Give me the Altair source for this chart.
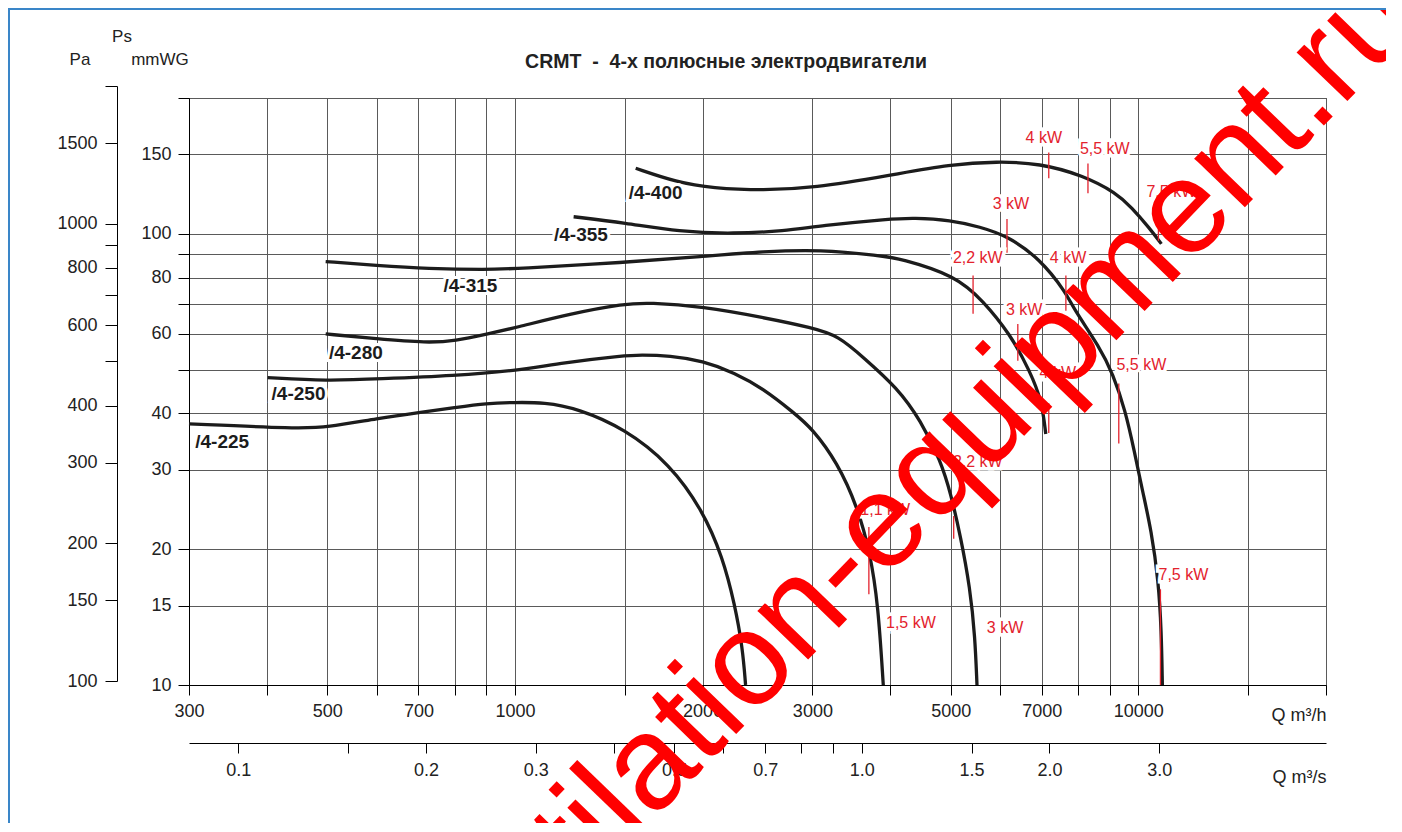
import altair as alt
import pandas as pd

NARROW = "Liberation Sans Narrow, Arial Narrow, Liberation Sans, Arial, sans-serif"
REG = "Liberation Sans, Arial, Helvetica, sans-serif"
RED = "#e3222d"
INK = "#1c1c1c"
GRID = "#5a5a5a"

# ---- fan curves: Q in m3/h, Ps in mmWG ----
models = ["/4-225", "/4-250", "/4-280", "/4-315", "/4-355", "/4-400"]
q_225 = [300, 450, 497, 604, 703, 802, 900, 1000, 1113, 1262, 1500, 1772, 2000, 2154, 2252, 2318, 2344]
p_225 = [37.9, 37.0, 37.2, 39.0, 40.2, 41.2, 42.1, 42.3, 42.3, 41.0, 37.0, 30.9, 24.4, 19.2, 15.1, 12.1, 10.0]
q_250 = [401, 500, 604, 802, 1000, 1194, 1500, 1586, 1772, 2000, 2252, 2500, 2797, 3000, 3291, 3544, 3714, 3824, 3898]
p_250 = [48.0, 47.2, 47.7, 48.5, 49.7, 51.8, 53.7, 53.9, 53.7, 52.3, 49.2, 45.4, 40.2, 37.0, 31.1, 24.8, 19.6, 15.1, 10.0]
q_280 = [497, 600, 724, 802, 903, 1000, 1226, 1500, 1639, 2000, 2509, 3000, 3304, 3622, 4104, 4475, 4818, 5000, 5188, 5371, 5470, 5510]
p_280 = [60.0, 58.5, 57.3, 57.9, 60.0, 61.9, 66.5, 70.0, 70.4, 69.0, 65.2, 61.9, 59.4, 53.2, 45.6, 38.6, 31.4, 26.6, 21.3, 16.4, 12.8, 10.0]
q_315 = [497, 600, 724, 903, 1000, 1500, 2000, 2509, 3090, 3853, 4150, 5093, 5633, 6226, 6696, 7000, 7104]
p_315 = [86.8, 85.1, 83.7, 83.3, 83.7, 86.4, 89.1, 91.4, 92.3, 89.5, 88.2, 80.8, 71.1, 60.0, 49.7, 42.7, 36.0]
q_355 = [1242, 1500, 1837, 2242, 2705, 3090, 4000, 4355, 5000, 5573, 6156, 6948, 7678, 7852, 8673, 9100, 9531, 9853, 10149, 10492, 10770, 10888, 10928]
p_355 = [109.1, 105.8, 101.0, 100.0, 101.5, 104.2, 107.9, 108.5, 107.3, 103.6, 99.0, 88.2, 73.7, 68.6, 56.0, 49.0, 40.6, 33.0, 27.0, 22.0, 17.0, 13.2, 10.0]
q_400 = [1562, 1817, 2075, 2509, 3000, 4000, 5000, 5934, 6948, 8149, 9235, 9744, 10415, 10888]
p_400 = [139.7, 130.1, 126.2, 124.9, 126.2, 134.8, 142.5, 144.7, 143.3, 134.8, 123.0, 114.5, 103.1, 95.0]

# curve name labels (anchor = left end of text)
label_q = [307, 407, 503, 768, 1155, 1522]
label_p = [34.6, 44.1, 54.5, 76.8, 99.5, 123.0]

# motor power labels
kw_text = ["4 kW", "5,5 kW", "7,5 kW", "3 kW", "2,2 kW", "4 kW", "3 kW", "4 kW",
           "5,5 kW", "7,5 kW", "2,2 kW", "3 kW", "1,1 kW", "1,5 kW"]
kw_q = [7052, 8834, 11297, 6246, 5527, 7713, 6558, 7427, 10111, 11810, 5527, 6112, 3926, 4317]
kw_p = [162.8, 153.9, 123.6, 116.5, 88.6, 88.6, 67.9, 49.2, 51.3, 17.5, 31.2, 13.4, 24.4, 13.7]
# motor limit markers
tick_q = [7183, 8302, 10770, 6156, 5431, 7652, 6407, 7183, 9303, 10850, 5056, 3696]
tick_p1 = [151.5, 143.2, 113.9, 107.9, 80.8, 80.8, 63.1, 42.1, 46.6, 16.3, 23.7, 22.4]
tick_p2 = [132.8, 123.0, 96.5, 90.8, 66.5, 67.5, 52.3, 36.2, 34.3, 10.0, 21.1, 15.9]

# axis ticks
qh_ticks = [300, 400, 500, 600, 700, 800, 900, 1000, 1500, 2000, 3000, 4000, 5000,
            6000, 7000, 8000, 9000, 10000, 15000, 20000]
qh_labels = [300, 500, 700, 1000, 2000, 3000, 5000, 7000, 10000]
qs_ticks = [0.1, 0.15, 0.2, 0.3, 0.4, 0.5, 0.6, 0.7, 0.8, 0.9, 1.0, 1.5, 2.0, 3.0]
qs_labels = [0.1, 0.2, 0.3, 0.5, 0.7, 1.0, 1.5, 2.0, 3.0]
mm_ticks = [10, 15, 20, 30, 40, 50, 60, 70, 80, 90, 100, 150, 200]
mm_labels = [10, 15, 20, 30, 40, 60, 80, 100, 150]
pa_ticks = [100, 150, 200, 300, 400, 500, 600, 700, 800, 900, 1000, 1500, 2000]
pa_labels = [100, 150, 200, 300, 400, 600, 800, 1000, 1500]

# ---- tables ----
rows = []
for name, qs, ps in zip(models, [q_225, q_250, q_280, q_315, q_355, q_400],
                        [p_225, p_250, p_280, p_315, p_355, p_400]):
    for i, (q, p) in enumerate(zip(qs, ps)):
        rows.append({"model": name, "q": q, "p": p, "i": i})
curves = pd.DataFrame(rows)
names_df = pd.DataFrame({"t": models, "q": label_q, "p": label_p})
kw_df = pd.DataFrame({"t": kw_text, "q": kw_q, "p": kw_p})
tick_df = pd.DataFrame({"q": tick_q, "p": tick_p1, "p2": tick_p2})

W, H = 1137, 587


def lst(v):
    return "[" + ",".join(str(x) for x in v) + "]"


x_axis = alt.Axis(values=qh_ticks,
                  labelExpr=f"indexof({lst(qh_labels)}, datum.value) >= 0 ? format(datum.value, 'd') : ''",
                  grid=True, gridColor=GRID, gridWidth=1, tickSize=10, tickColor="black",
                  domainColor="black", labelFont=NARROW, labelFontSize=18, labelPadding=7,
                  labelColor="#222", labelFlush=False, labelOverlap=False,
                  title="Q m³/h", titleX=W, titleY=30, titleAlign="right", titleBaseline="middle",
                  titleFont=NARROW, titleFontSize=18, titleFontWeight="normal", titleColor="#222")
y_axis = alt.Axis(values=mm_ticks,
                  labelExpr=f"indexof({lst(mm_labels)}, datum.value) >= 0 ? format(datum.value, 'd') : ''",
                  grid=True, gridColor=GRID, gridWidth=1, tickSize=11, tickColor="black",
                  domainColor="black", labelFont=NARROW, labelFontSize=18, labelPadding=7,
                  labelColor="#222", labelFlush=False, labelOverlap=False, title=None)
xs = alt.Scale(type="log", domain=[300, 20000], nice=False)
ys = alt.Scale(type="log", domain=[10, 200], nice=False)
X = alt.X("q:Q", scale=xs, axis=x_axis)
Y = alt.Y("p:Q", scale=ys, axis=y_axis)

lines = alt.Chart(curves).mark_line(interpolate="basis", color=INK, strokeWidth=3.3,
                                    strokeCap="butt").encode(
    x=X, y=Y, detail="model:N", order="i:Q")

ticks = alt.Chart(tick_df).mark_rule(color=RED, strokeWidth=1.3).encode(
    x=X, y=Y, y2="p2:Q")

kw_halo = alt.Chart(kw_df).mark_text(font=REG, fontSize=16, fill="white", stroke="white",
                                     strokeWidth=7, align="center", baseline="middle").encode(
    x=X, y=Y, text="t:N")
kw_text_l = alt.Chart(kw_df).mark_text(font=REG, fontSize=16, color=RED, align="center",
                                       baseline="middle").encode(x=X, y=Y, text="t:N")

name_halo = alt.Chart(names_df).mark_text(font=NARROW, fontSize=19, fontWeight="bold", fill="white",
                                          stroke="white", strokeWidth=6, align="left",
                                          baseline="middle").encode(x=X, y=Y, text="t:N")
name_text = alt.Chart(names_df).mark_text(font=NARROW, fontSize=19, fontWeight="bold", color=INK,
                                          align="left", baseline="middle").encode(x=X, y=Y, text="t:N")


def note(txt, px, py, size=17, weight="normal", align="center"):
    return alt.Chart(pd.DataFrame({"t": [txt]})).mark_text(
        font=NARROW, fontSize=size, fontWeight=weight, color="#222", align=align,
        baseline="middle").encode(text="t:N", x=alt.value(px), y=alt.value(py))


NB = "\u00a0"
title = note(f"CRMT{NB}{NB}-{NB}{NB}4-х полюсные электродвигатели", 537, -36, size=19.5, weight="bold")
t_pa = note("Pa", -109, -38)
t_ps = note("Ps", -67, -61)
t_mm = note("mmWG", -29, -38)

wm_df = pd.DataFrame({"t": ["ventilation-equipment.ru"], "q": [4636], "p": [21.7]})
watermark = alt.Chart(wm_df).mark_text(font=REG, fontSize=133, color="#ff0000", angle=314,
                                       align="center", baseline="alphabetic").encode(
    x=X, y=Y, text="t:N")

one = pd.DataFrame({"a": [0]})
frame_left = alt.Chart(one).mark_rule(color="#3a86c8", strokeWidth=2).encode(
    x=alt.value(-180), y=alt.value(-90), y2=alt.value(H + 140))
frame_top = alt.Chart(one).mark_rule(color="#3a86c8", strokeWidth=2).encode(
    x=alt.value(-181), x2=alt.value(W + 80), y=alt.value(-89))

main = alt.layer(lines, ticks, kw_halo, kw_text_l, name_halo, name_text, title, t_pa, t_ps, t_mm,
                 watermark, frame_left, frame_top)

qs_layer = alt.Chart(pd.DataFrame({"qs": qs_ticks})).mark_point(opacity=0).encode(
    x=alt.X("qs:Q", scale=alt.Scale(type="log", domain=[300 / 3600, 20000 / 3600], nice=False),
            axis=alt.Axis(orient="bottom", offset=58, values=qs_ticks,
                          labelExpr=f"indexof({lst(qs_labels)}, datum.value) >= 0 ? format(datum.value, '.1f') : ''",
                          grid=False, tickSize=10, tickColor="black", domainColor="black",
                          labelFont=NARROW, labelFontSize=18, labelPadding=8, labelColor="#222",
                          labelFlush=False, labelOverlap=False,
                          title="Q m³/s", titleX=W, titleY=34, titleAlign="right",
                          titleBaseline="middle", titleFont=NARROW, titleFontSize=18,
                          titleFontWeight="normal", titleColor="#222")))

pa_layer = alt.Chart(pd.DataFrame({"pa": pa_ticks})).mark_point(opacity=0).encode(
    y=alt.Y("pa:Q", scale=alt.Scale(type="log", domain=[100, 2000], range=[583, -12], nice=False),
            axis=alt.Axis(orient="left", offset=72, values=pa_ticks,
                          labelExpr=f"indexof({lst(pa_labels)}, datum.value) >= 0 ? format(datum.value, 'd') : ''",
                          grid=False, tickSize=12, tickColor="black", domainColor="black",
                          labelFont=NARROW, labelFontSize=18, labelPadding=8, labelColor="#222",
                          labelFlush=False, labelOverlap=False, title=None)))

chart = alt.layer(main, qs_layer, pa_layer).resolve_scale(
    x="independent", y="independent"
).properties(
    width=W, height=H,
    padding={"left": 181, "top": 90, "right": 60, "bottom": 138},
    autosize=alt.AutoSizeParams(type="none"),
    background="white",
).configure_view(stroke="#222", strokeWidth=1)

chart.save("out.html", embed_options={"renderer": "svg", "actions": False})
